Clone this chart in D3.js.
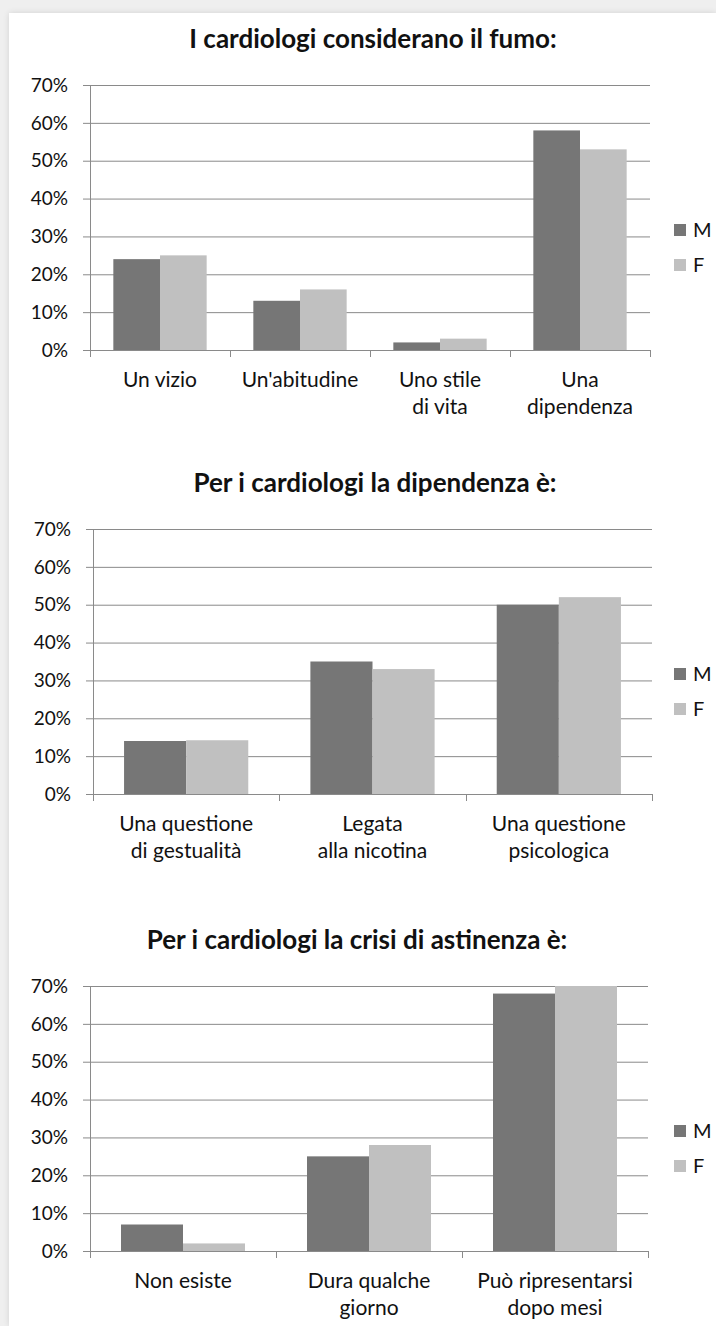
<!DOCTYPE html>
<html>
<head>
<meta charset="utf-8">
<script src="https://cdn.jsdelivr.net/npm/d3@7"></script>
<style>
  body { margin: 0; background: #efefef; }
  #panel {
    position: absolute; left: 9px; top: 13px; width: 707px; height: 1313px;
    background: #fff; box-shadow: 0 0 6px rgba(0,0,0,0.12);
  }
  svg { position: absolute; left: 0; top: 0; }
  text { font-family: Lato, "Open Sans", sans-serif; fill: #111; }
</style>
</head>
<body>
<div id="panel"></div>
<svg id="chart" width="716" height="1326"></svg>
<script>
const series = ["M", "F"];
const seriesColors = ["#767676", "#c0c0c0"];
const yTicks = [0, 10, 20, 30, 40, 50, 60, 70];

// grafico 1
const fumoTitle = "I cardiologi considerano il fumo:";
const fumoCategories = [["Un vizio"], ["Un'abitudine"], ["Uno stile", "di vita"], ["Una", "dipendenza"]];
const fumoM = [24, 13, 2, 58];
const fumoF = [25, 16, 3, 53];

// grafico 2
const dipTitle = "Per i cardiologi la dipendenza è:";
const dipCategories = [["Una questione", "di gestualità"], ["Legata", "alla nicotina"], ["Una questione", "psicologica"]];
const dipM = [14, 35, 50];
const dipF = [14.2, 33, 52];

// grafico 3
const astTitle = "Per i cardiologi la crisi di astinenza è:";
const astCategories = [["Non esiste"], ["Dura qualche", "giorno"], ["Può ripresentarsi", "dopo mesi"]];
const astM = [7, 25, 68];
const astF = [2, 28, 70];

const svg = d3.select("#chart");

function drawChart(opt) {
  const g = svg.append("g");
  const x = d3.scaleBand()
    .domain(d3.range(opt.categories.length))
    .range([opt.left, opt.right]);
  const x1 = d3.scaleBand()
    .domain(series)
    .range([x.bandwidth() / 6, x.bandwidth() * 5 / 6]);
  const y = d3.scaleLinear().domain([0, 70]).range([opt.top + 265, opt.top]);

  g.append("text")
    .attr("x", opt.titleX)
    .attr("y", opt.top - 37)
    .attr("text-anchor", "middle")
    .style("font-weight", "bold")
    .style("font-size", "26px")
    .text(opt.title);

  // griglia
  g.append("g")
    .selectAll("line")
    .data(yTicks)
    .join("line")
    .attr("x1", opt.left - 7)
    .attr("x2", opt.right)
    .attr("y1", (d) => y(d) + 0.5)
    .attr("y2", (d) => y(d) + 0.5)
    .attr("stroke", "#8a8a8a")
    .attr("stroke-width", 1);

  g.append("g")
    .selectAll("text")
    .data(yTicks)
    .join("text")
    .attr("x", opt.left - 22)
    .attr("y", (d) => y(d))
    .attr("dy", "0.35em")
    .attr("text-anchor", "end")
    .style("font-size", "19px")
    .text((d) => d + "%");

  const rows = opt.categories.map((c, i) => ({ i, values: [opt.m[i], opt.f[i]] }));

  g.append("g")
    .selectAll("g")
    .data(rows)
    .join("g")
    .attr("transform", (d) => `translate(${x(d.i)},0)`)
    .selectAll("rect")
    .data((d) => d.values.map((v, k) => ({ key: series[k], v, k })))
    .join("rect")
    .attr("x", (d) => x1(d.key))
    .attr("width", x1.bandwidth())
    .attr("y", (d) => y(d.v))
    .attr("height", (d) => y(0) - y(d.v))
    .attr("fill", (d) => seriesColors[d.k]);

  // assi
  g.append("line")
    .attr("x1", opt.left + 0.5).attr("x2", opt.left + 0.5)
    .attr("y1", opt.top).attr("y2", y(0) + 7)
    .attr("stroke", "#8a8a8a");
  g.append("line")
    .attr("x1", opt.left - 7).attr("x2", opt.right)
    .attr("y1", y(0) + 0.5).attr("y2", y(0) + 0.5)
    .attr("stroke", "#8a8a8a");
  g.append("g")
    .selectAll("line")
    .data(d3.range(opt.categories.length + 1))
    .join("line")
    .attr("x1", (d) => Math.round(opt.left + d * x.step()) + 0.5)
    .attr("x2", (d) => Math.round(opt.left + d * x.step()) + 0.5)
    .attr("y1", y(0))
    .attr("y2", y(0) + 7)
    .attr("stroke", "#8a8a8a");

  const labels = g.append("g")
    .selectAll("text")
    .data(opt.categories)
    .join("text")
    .attr("x", (d, i) => x(i) + x.bandwidth() / 2)
    .attr("y", y(0) + 37)
    .attr("text-anchor", "middle")
    .style("font-size", "21px");
  labels.selectAll("tspan")
    .data((d) => d)
    .join("tspan")
    .attr("x", function () { return this.parentNode.getAttribute("x"); })
    .attr("dy", (d, i) => (i === 0 ? 0 : 27))
    .text((d) => d);

  // legenda
  const leg = g.append("g")
    .selectAll("g")
    .data(series)
    .join("g")
    .attr("transform", (d, i) => `translate(674,${opt.top + 145 + i * 35})`);
  leg.append("rect")
    .attr("x", 0).attr("y", -6)
    .attr("width", 12).attr("height", 12)
    .attr("fill", (d, i) => seriesColors[i]);
  leg.append("text")
    .attr("x", 19)
    .attr("dy", "0.35em")
    .style("font-size", "20px")
    .text((d) => d);
}

drawChart({ title: fumoTitle, titleX: 373, categories: fumoCategories, m: fumoM, f: fumoF, left: 90, right: 650, top: 85 });
drawChart({ title: dipTitle, titleX: 375, categories: dipCategories, m: dipM, f: dipF, left: 93, right: 652, top: 529 });
drawChart({ title: astTitle, titleX: 357, categories: astCategories, m: astM, f: astF, left: 90, right: 648, top: 986 });
</script>
</body>
</html>
